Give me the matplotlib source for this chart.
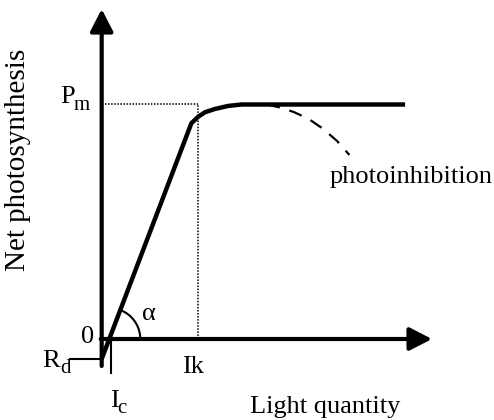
import numpy as np
import matplotlib
matplotlib.use('Agg')
import matplotlib.pyplot as plt

plt.rcParams['font.family'] = ['Liberation Serif', 'DejaVu Serif']

# schematic P-I curve (light in arbitrary units, Ik = 100, Pm = 10)
Pm = 10.0
Ik = 100.0
Rd = 0.85
Ic = 10.0

light_curve = [0, 93.4, 100.6, 107.6, 118.0, 131.9, 145.8, 316.0]
photo_curve = [-0.85, 9.2, 9.48, 9.67, 9.81, 9.94, 10.0, 10.0]

light_inhib = [172, 185, 200, 215, 230, 245, 258]
photo_inhib = [10.0, 9.88, 9.68, 9.40, 8.98, 8.45, 7.85]

x_axis_end = 344
y_axis_end = 14.07
y_axis_start = -1.15

fig = plt.figure(figsize=(4.94, 4.20), dpi=100)
ax = fig.add_axes([0, 0, 1, 1])
ax.set_xlim(-105.9, 408.6)
ax.set_ylim(-3.454, 14.456)
ax.axis('off')

# axes with arrows
arrow = dict(arrowstyle='-|>,head_length=0.68,head_width=0.35', mutation_scale=20,
             lw=3, color='black', shrinkA=0, shrinkB=0)
ax.annotate('', xy=(0, y_axis_end), xytext=(0, y_axis_start), arrowprops=arrow)
ax.annotate('', xy=(x_axis_end, 0), xytext=(-1, 0), arrowprops=arrow)

# helper lines
ax.plot([0, Ik], [Pm, Pm], color='black', lw=1.1, ls=(0, (1, 1)))
ax.plot([Ik, Ik], [0, Pm], color='black', lw=1.1, ls=(0, (1, 1)))
ax.plot([-33, 0], [-Rd, -Rd], color='black', lw=1.5)
ax.plot([Ic, Ic], [0, -1.45], color='black', lw=1.5)

# curves
ax.plot(light_curve, photo_curve, color='black', lw=3.2, solid_joinstyle='round',
        solid_capstyle='butt')
ax.plot(light_inhib, photo_inhib, color='black', lw=1.6, ls=(0, (6, 4.5)))

# alpha arc, drawn as a circle in pixel space
p0 = ax.transData.transform((light_curve[0], photo_curve[0]))
p1 = ax.transData.transform((light_curve[1], photo_curve[1]))
ang = np.arctan2(p1[1] - p0[1], p1[0] - p0[0])
cross = ax.transData.transform((Rd / (photo_curve[1] - photo_curve[0]) * light_curve[1], 0))
t = np.linspace(0, ang, 40)
arc_px = np.column_stack([cross[0] + 31 * np.cos(t), cross[1] + 31 * np.sin(t)])
arc = ax.transData.inverted().transform(arc_px)
ax.plot(arc[:, 0], arc[:, 1], color='black', lw=1.5)

fs = 19
ax.text(-87.2, 7.63, 'Net photosynthesis', rotation=90, ha='center', va='center', fontsize=fs + 2)
ax.text(154.5, -3.16, 'Light quantity', ha='left', va='baseline', fontsize=fs)
ax.text(237.8, 6.65, 'photoinhibition', ha='left', va='baseline', fontsize=fs)
ax.text(-43.4, 10.06, 'P', ha='left', va='baseline', fontsize=fs)
ax.text(-29.0, 9.77, 'm', ha='left', va='baseline', fontsize=fs - 4)
ax.text(-62.2, -1.19, 'R', ha='left', va='baseline', fontsize=fs)
ax.text(-43.5, -1.45, 'd', ha='left', va='baseline', fontsize=fs - 4)
ax.text(8.6, -2.9, 'I', ha='left', va='baseline', fontsize=fs)
ax.text(16.5, -3.15, 'c', ha='left', va='baseline', fontsize=fs - 4)
ax.text(83.6, -1.45, 'Ik', ha='left', va='baseline', fontsize=fs)
ax.text(-14.3, -0.17, '0', ha='center', va='baseline', fontsize=fs)
ax.text(49.3, 0.81, 'α', ha='center', va='baseline', fontsize=fs)

fig.savefig('out.png', dpi=100)
